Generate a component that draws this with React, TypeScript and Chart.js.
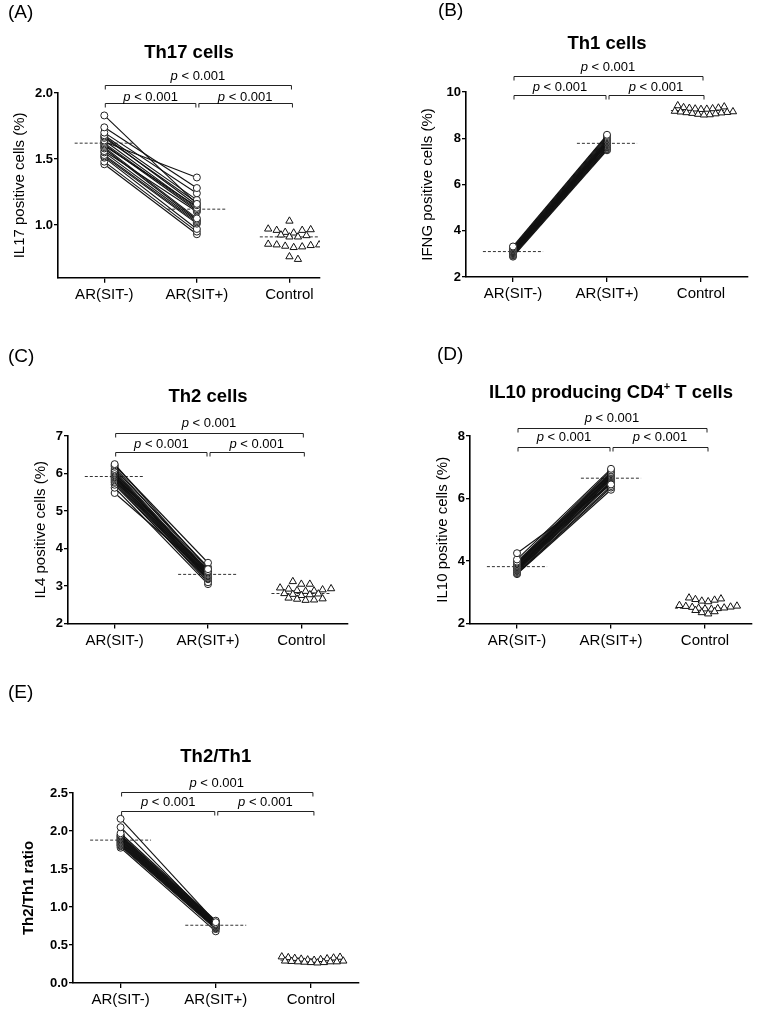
import React, { useEffect, useRef } from "react";
import { Chart, registerables } from "chart.js";

Chart.register(...registerables);

const FONT = "'Liberation Sans', Arial, Helvetica, sans-serif";
Chart.defaults.font.family = FONT;
Chart.defaults.color = "#000";

// ---------- shared ----------
const categories = ["AR(SIT-)", "AR(SIT+)", "Control"];
const pValueText = ["p", " < 0.001"];

// ---------- (A) Th17 ----------
const th17Pre = [1.83, 1.74, 1.70, 1.68, 1.67, 1.66, 1.64, 1.63, 1.62, 1.61, 1.60, 1.59, 1.58, 1.56, 1.55, 1.53, 1.52, 1.51, 1.48, 1.46];
const th17Post = [1.16, 1.28, 1.24, 1.19, 1.15, 1.17, 1.13, 1.36, 1.12, 1.11, 1.14, 1.05, 1.04, 1.10, 1.03, 1.02, 1.01, 0.97, 0.95, 0.93];
const th17Control = [1.03, 0.97, 0.965, 0.96, 0.96, 0.945, 0.94, 0.925, 0.92, 0.91, 0.91, 0.855, 0.85, 0.85, 0.845, 0.84, 0.835, 0.83, 0.76, 0.74];
const th17Means = [1.62, 1.12, 0.91];
const th17Ticks = [1.0, 1.5, 2.0];

// ---------- (B) Th1 ----------
const th1Pre = [3.32, 3.28, 3.25, 3.22, 3.20, 3.18, 3.15, 3.13, 3.12, 3.10, 3.08, 3.06, 3.05, 3.03, 3.02, 3.00, 2.98, 2.95, 2.92, 2.88];
const th1Post = [8.15, 8.10, 8.05, 8.00, 7.95, 7.92, 7.88, 7.85, 7.82, 7.80, 7.78, 7.75, 7.72, 7.70, 7.65, 7.62, 7.60, 7.55, 7.52, 7.48];
const th1Control = [9.41, 9.36, 9.33, 9.31, 9.30, 9.28, 9.27, 9.26, 9.25, 9.17, 9.15, 9.14, 9.12, 9.11, 9.10, 9.08, 9.06, 9.04, 9.02, 9.01];
const th1Means = [3.1, 7.78, 9.2];
const th1Ticks = [2, 4, 6, 8, 10];

// ---------- (C) Th2 ----------
const th2Pre = [6.25, 6.22, 6.18, 6.12, 6.08, 6.05, 6.02, 6.00, 5.97, 5.95, 5.92, 5.90, 5.88, 5.85, 5.82, 5.78, 5.75, 5.70, 5.62, 5.48];
const th2Post = [3.45, 3.62, 3.40, 3.50, 3.38, 3.36, 3.33, 3.35, 3.30, 3.28, 3.42, 3.26, 3.25, 3.22, 3.20, 3.18, 3.10, 3.15, 3.05, 3.32];
const th2Control = [3.12, 3.05, 3.05, 2.95, 2.93, 2.92, 2.90, 2.88, 2.87, 2.86, 2.80, 2.79, 2.78, 2.77, 2.75, 2.68, 2.66, 2.65, 2.63, 2.62];
const th2Means = [5.92, 3.31, 2.8];
const th2Ticks = [2, 3, 4, 5, 6, 7];

// ---------- (D) IL10 ----------
const il10Pre = [4.25, 4.05, 3.98, 3.95, 3.92, 3.90, 3.88, 3.85, 3.83, 3.80, 3.78, 3.76, 3.75, 3.72, 3.70, 3.68, 3.65, 3.62, 3.60, 3.58];
const il10Post = [6.45, 6.95, 6.90, 6.85, 6.82, 6.80, 6.78, 6.75, 6.72, 6.70, 6.68, 6.65, 6.62, 6.60, 6.55, 6.52, 6.48, 6.40, 6.35, 6.28];
const il10Control = [2.82, 2.79, 2.77, 2.75, 2.72, 2.70, 2.58, 2.56, 2.55, 2.53, 2.52, 2.50, 2.49, 2.48, 2.47, 2.46, 2.42, 2.38, 2.35, 2.31];
const il10Means = [3.82, 6.65, 2.49];
const il10Ticks = [2, 4, 6, 8];

// ---------- (E) Th2/Th1 ----------
const ratioPre = [2.16, 2.05, 1.97, 1.95, 1.94, 1.93, 1.92, 1.91, 1.90, 1.89, 1.88, 1.87, 1.86, 1.85, 1.84, 1.83, 1.82, 1.81, 1.80, 1.78];
const ratioPost = [0.80, 0.78, 0.82, 0.81, 0.80, 0.79, 0.79, 0.78, 0.77, 0.77, 0.76, 0.76, 0.75, 0.75, 0.74, 0.74, 0.73, 0.72, 0.71, 0.68];
const ratioControl = [0.345, 0.34, 0.335, 0.33, 0.325, 0.32, 0.315, 0.31, 0.305, 0.30, 0.29, 0.29, 0.285, 0.28, 0.28, 0.28, 0.275, 0.27, 0.27, 0.265];
const ratioMeans = [1.88, 0.76, 0.3];
const ratioTicks = [0, 0.5, 1.0, 1.5, 2.0, 2.5];

type Rect = { left: number; top: number; width: number; height: number };
type Area = { left: number; top: number; right: number; bottom: number };
type Panel = {
  letter: string;
  titleParts: [string, boolean][];
  yTitle: string;
  yTitleBold: boolean;
  pre: number[];
  post: number[];
  control: number[];
  means: number[];
  ticks: number[];
  yMin: number;
  yMax: number;
  decimals: number;
  xMax: number;
  canvas: Rect;
  area: Area;
  letterPos: { x: number; y: number };
  titleDy: number;
  yTitleDx: number;
  topBracketDy: number;
  topLabelDy: number;
  lowBracketDy: number;
  lowLabelDy: number;
};

const panels: Panel[] = [
  {
    letter: "A", titleParts: [["Th17 cells", false]], yTitle: "IL17 positive cells (%)", yTitleBold: false,
    pre: th17Pre, post: th17Post, control: th17Control, means: th17Means, ticks: th17Ticks,
    yMin: 0.6, yMax: 2.0, decimals: 1, xMax: 2.33,
    canvas: { left: 0, top: 0, width: 379, height: 315 },
    area: { left: 58, top: 93, right: 320, bottom: 277.8 },
    letterPos: { x: 8, y: 13 }, titleDy: -40, yTitleDx: 38,
    topBracketDy: -8, topLabelDy: -17, lowBracketDy: 10, lowLabelDy: 4,
  },
  {
    letter: "B", titleParts: [["Th1 cells", false]], yTitle: "IFNG positive cells (%)", yTitleBold: false,
    pre: th1Pre, post: th1Post, control: th1Control, means: th1Means, ticks: th1Ticks,
    yMin: 2, yMax: 10, decimals: 0, xMax: 2.5,
    canvas: { left: 379, top: 0, width: 379, height: 315 },
    area: { left: 466, top: 92, right: 748, bottom: 277 },
    letterPos: { x: 438, y: 11 }, titleDy: -48, yTitleDx: 38.5,
    topBracketDy: -16, topLabelDy: -25, lowBracketDy: 3, lowLabelDy: -5,
  },
  {
    letter: "C", titleParts: [["Th2 cells", false]], yTitle: "IL4 positive cells (%)", yTitleBold: false,
    pre: th2Pre, post: th2Post, control: th2Control, means: th2Means, ticks: th2Ticks,
    yMin: 2, yMax: 7, decimals: 0, xMax: 2.5,
    canvas: { left: 0, top: 315, width: 379, height: 340 },
    area: { left: 68, top: 436, right: 348, bottom: 623.5 },
    letterPos: { x: 8, y: 357 }, titleDy: -39, yTitleDx: 27,
    topBracketDy: -3, topLabelDy: -13, lowBracketDy: 16, lowLabelDy: 8,
  },
  {
    letter: "D", titleParts: [["IL10 producing CD4", false], ["+", true], [" T cells", false]], yTitle: "IL10 positive cells (%)", yTitleBold: false,
    pre: il10Pre, post: il10Post, control: il10Control, means: il10Means, ticks: il10Ticks,
    yMin: 2, yMax: 8, decimals: 0, xMax: 2.5,
    canvas: { left: 379, top: 315, width: 379, height: 340 },
    area: { left: 470, top: 436, right: 752, bottom: 623.5 },
    letterPos: { x: 437, y: 355 }, titleDy: -43, yTitleDx: 27.5,
    topBracketDy: -8, topLabelDy: -18, lowBracketDy: 11, lowLabelDy: 1,
  },
  {
    letter: "E", titleParts: [["Th2/Th1", false]], yTitle: "Th2/Th1 ratio", yTitleBold: true,
    pre: ratioPre, post: ratioPost, control: ratioControl, means: ratioMeans, ticks: ratioTicks,
    yMin: 0, yMax: 2.5, decimals: 1, xMax: 2.5,
    canvas: { left: 0, top: 655, width: 379, height: 360 },
    area: { left: 73, top: 793, right: 358.5, bottom: 983 },
    letterPos: { x: 8, y: 693 }, titleDy: -36, yTitleDx: 44.5,
    topBracketDy: -1, topLabelDy: -10, lowBracketDy: 18, lowLabelDy: 9,
  },
];

// Prism-like scatter-dot layout: points with close values share a row and are
// spread side by side; neighbouring rows are interleaved.
function rowLayout(ysPx: number[], h: number, s: number): number[] {
  const order = ysPx.map((_, i) => i).sort((a, b) => ysPx[a] - ysPx[b]);
  const rows: number[][] = [];
  let start = -Infinity;
  for (const i of order) {
    if (ysPx[i] - start > h) {
      rows.push([]);
      start = ysPx[i];
    }
    rows[rows.length - 1].push(i);
  }
  const out: number[] = new Array(ysPx.length).fill(0);
  let prevParity = -1;
  let prevShift = 0;
  for (const row of rows) {
    const n = row.length;
    const parity = n % 2;
    let shift = prevShift;
    if (parity === prevParity) shift = prevShift === 0 ? s / 2 : 0;
    // slots: left, right, left+1, right-1 ... so the lowest points end up in the middle
    const slots: number[] = [];
    let l = 0;
    let r = n - 1;
    while (l <= r) {
      slots.push(l++);
      if (l <= r) slots.push(r--);
    }
    row.forEach((idx, j) => {
      out[idx] = (slots[j] - (n - 1) / 2) * s + shift;
    });
    prevParity = parity;
    prevShift = shift;
  }
  return out;
}

function drawP(ctx: CanvasRenderingContext2D, cx: number, cy: number) {
  const italic = `italic 13px ${FONT}`;
  const normal = `13px ${FONT}`;
  ctx.font = italic;
  const wp = ctx.measureText(pValueText[0]).width;
  ctx.font = normal;
  const wr = ctx.measureText(pValueText[1]).width;
  const start = cx - (wp + wr) / 2;
  ctx.textAlign = "left";
  ctx.textBaseline = "middle";
  ctx.font = italic;
  ctx.fillText(pValueText[0], start, cy);
  ctx.font = normal;
  ctx.fillText(pValueText[1], start + wp, cy);
}

function makeDecor(p: Panel) {
  return {
    id: "decor" + p.letter,
    afterDraw(chart: any) {
      const ctx: CanvasRenderingContext2D = chart.ctx;
      const a = chart.chartArea;
      const xs = chart.scales.x;
      ctx.save();
      ctx.fillStyle = "#000";
      ctx.strokeStyle = "#222";
      // panel letter
      ctx.font = `19px ${FONT}`;
      ctx.textAlign = "left";
      ctx.textBaseline = "middle";
      ctx.fillText(`(${p.letter})`, p.letterPos.x - p.canvas.left, p.letterPos.y - p.canvas.top);
      // title
      const big = `bold 18.5px ${FONT}`;
      const small = `bold 11px ${FONT}`;
      let total = 0;
      for (const [t, sup] of p.titleParts) {
        ctx.font = sup ? small : big;
        total += ctx.measureText(t).width;
      }
      let tx = (a.left + a.right) / 2 - total / 2;
      const ty = a.top + p.titleDy;
      for (const [t, sup] of p.titleParts) {
        ctx.font = sup ? small : big;
        ctx.fillText(t, tx, sup ? ty - 6 : ty);
        tx += ctx.measureText(t).width;
      }
      // y title
      ctx.save();
      ctx.translate(a.left - p.yTitleDx, (a.top + a.bottom) / 2);
      ctx.rotate(-Math.PI / 2);
      ctx.font = `${p.yTitleBold ? "bold " : ""}15px ${FONT}`;
      ctx.textAlign = "center";
      ctx.fillText(p.yTitle, 0, 0);
      ctx.restore();
      // brackets
      const x0 = xs.getPixelForValue(0);
      const x1 = xs.getPixelForValue(1);
      const x2 = xs.getPixelForValue(2);
      const tick = 4;
      ctx.lineWidth = 1;
      const bracket = (xa: number, xb: number, y: number) => {
        const yy = Math.round(y) + 0.5;
        ctx.beginPath();
        ctx.moveTo(xa, yy + tick);
        ctx.lineTo(xa, yy);
        ctx.lineTo(xb, yy);
        ctx.lineTo(xb, yy + tick);
        ctx.stroke();
      };
      bracket(x0 + 1, x2 + 2, a.top + p.topBracketDy);
      bracket(x0 + 1, x1 - 1, a.top + p.lowBracketDy);
      bracket(x1 + 2, x2 + 3, a.top + p.lowBracketDy);
      drawP(ctx, (x0 + x2) / 2 + 1, a.top + p.topLabelDy);
      drawP(ctx, (x0 + x1) / 2, a.top + p.lowLabelDy);
      drawP(ctx, (x1 + x2) / 2 + 2, a.top + p.lowLabelDy);
      ctx.restore();
    },
  };
}

function PanelChart({ p }: { p: Panel }) {
  const ref = useRef<HTMLCanvasElement | null>(null);
  useEffect(() => {
    if (!ref.current) return;
    const half = 0.32;
    const meanSets = p.means.map((m, c) => ({
      data: [{ x: c - half, y: m }, { x: c + half, y: m }],
      showLine: true,
      borderColor: "#333",
      borderWidth: 1,
      borderDash: [3, 2],
      pointRadius: 0,
      order: 10,
    }));
    const pairSets = p.pre.map((v, i) => ({
      data: [{ x: 0, y: v }, { x: 1, y: p.post[i] }],
      showLine: true,
      borderColor: "#111",
      borderWidth: 1.1,
      pointRadius: 3.5,
      pointBackgroundColor: "#fff",
      pointBorderColor: "#222",
      pointBorderWidth: 1,
      order: 1,
    }));
    const controlSet = {
      data: p.control.map((v) => ({ x: 2, y: v })),
      showLine: false,
      pointStyle: "triangle",
      pointRadius: 4.2,
      pointBackgroundColor: "#fff",
      pointBorderColor: "#111",
      pointBorderWidth: 1,
      order: 0,
    };
    const yWidth = p.area.left - p.canvas.left;
    const xHeight = p.canvas.top + p.canvas.height - p.area.bottom;
    const chart = new Chart(ref.current, {
      type: "scatter",
      data: { datasets: [...meanSets, ...pairSets, controlSet] as any },
      options: {
        animation: false,
        responsive: false,
        maintainAspectRatio: false,
        devicePixelRatio: 1,
        layout: {
          autoPadding: false,
          padding: {
            left: 0,
            top: p.area.top - p.canvas.top,
            right: p.canvas.left + p.canvas.width - p.area.right,
            bottom: 0,
          },
        },
        plugins: { legend: { display: false }, tooltip: { enabled: false }, title: { display: false } },
        scales: {
          x: {
            type: "linear",
            min: -0.5,
            max: p.xMax,
            afterBuildTicks: (axis: any) => {
              axis.ticks = categories.map((_, i) => ({ value: i }));
            },
            afterFit: (axis: any) => {
              axis.height = xHeight;
            },
            ticks: {
              callback: (v: any) => categories[Math.round(Number(v))] ?? "",
              font: { size: 15 },
              color: "#000",
              padding: 3,
              maxRotation: 0,
              autoSkip: false,
            },
            grid: { display: true, drawOnChartArea: false, drawTicks: true, tickLength: 5, color: "#000", lineWidth: 1.3 },
            border: { display: true, color: "#000", width: 1.6 },
          },
          y: {
            type: "linear",
            min: p.yMin,
            max: p.yMax,
            afterBuildTicks: (axis: any) => {
              axis.ticks = p.ticks.map((v) => ({ value: v }));
            },
            afterFit: (axis: any) => {
              axis.width = yWidth;
            },
            ticks: {
              callback: (v: any) => Number(v).toFixed(p.decimals),
              font: { size: 13, weight: "bold" },
              color: "#000",
              padding: 1,
              autoSkip: false,
            },
            grid: { display: true, drawOnChartArea: false, drawTicks: true, tickLength: 4, color: "#000", lineWidth: 1.3 },
            border: { display: true, color: "#000", width: 1.6 },
          },
        },
      } as any,
      plugins: [makeDecor(p)],
    });
    // place the control triangles side by side, using the chart's own scales
    const ys = chart.scales.y;
    const xs = chart.scales.x;
    const unitX = xs.getPixelForValue(1) - xs.getPixelForValue(0);
    const offs = rowLayout(p.control.map((v) => ys.getPixelForValue(v)), 4, 8.5);
    const maxAbs = Math.max(...offs.map((o) => Math.abs(o)), 1e-9);
    const limit = 0.34 * unitX;
    const k = maxAbs > limit ? limit / maxAbs : 1;
    (chart.data.datasets[chart.data.datasets.length - 1] as any).data = p.control.map((v, i) => ({
      x: 2 + (offs[i] * k) / unitX,
      y: v,
    }));
    chart.update();
    return () => chart.destroy();
  }, [p]);
  return (
    <canvas
      ref={ref}
      width={p.canvas.width}
      height={p.canvas.height}
      style={{
        position: "absolute",
        left: p.canvas.left,
        top: p.canvas.top,
        width: p.canvas.width,
        height: p.canvas.height,
      }}
    />
  );
}

export default function App() {
  return (
    <div style={{ position: "absolute", left: 0, top: 0, width: 758, height: 1015, background: "#fff" }}>
      {panels.map((p) => (
        <PanelChart key={p.letter} p={p} />
      ))}
    </div>
  );
}
